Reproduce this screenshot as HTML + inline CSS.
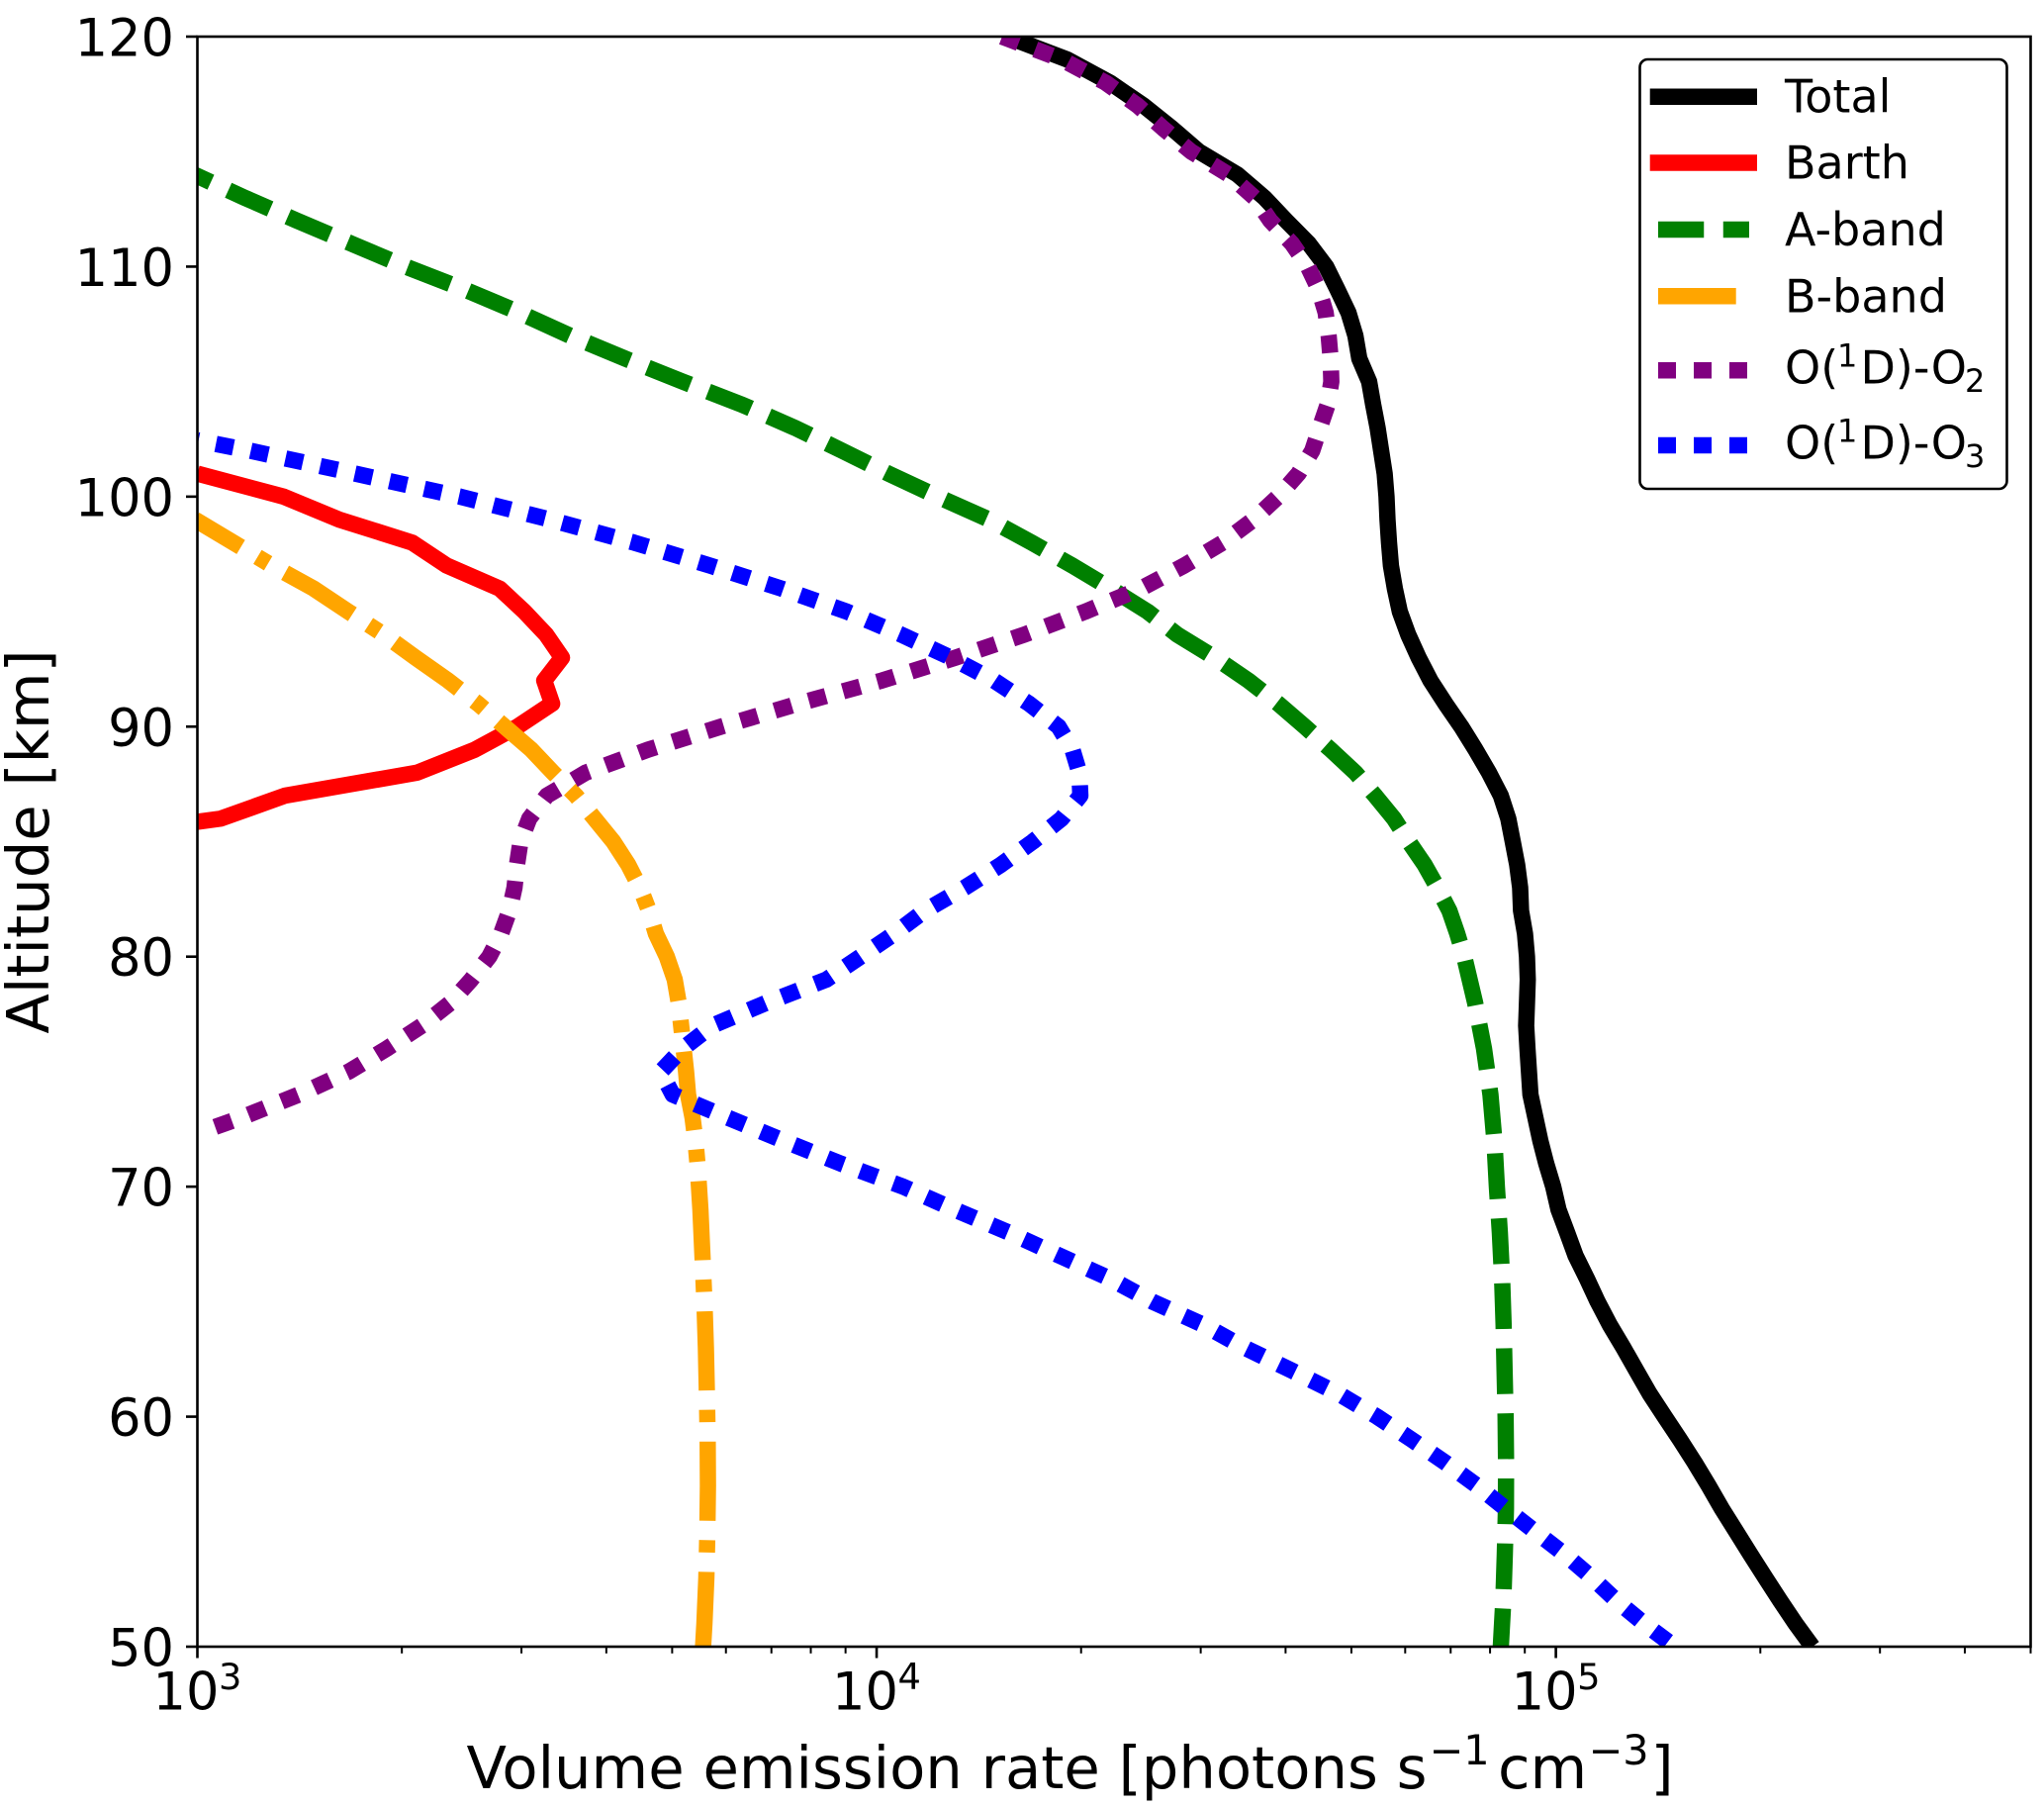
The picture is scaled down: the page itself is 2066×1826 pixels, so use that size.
<!DOCTYPE html>
<html lang="en">
<head>
<meta charset="utf-8">
<title>Volume emission rate profile</title>
<style>
html,body{margin:0;padding:0;background:#fff;}
svg{display:block;}
text{font-family:"DejaVu Sans","Liberation Sans",sans-serif;fill:#000;}
</style>
</head>
<body>
<svg id="chart" xmlns="http://www.w3.org/2000/svg" width="2066" height="1826" viewBox="0 0 2066 1826">
  <rect x="0" y="0" width="2066" height="1826" fill="#fff"/>
  <defs><clipPath id="plot-clip"><rect x="199.5" y="37" width="1853" height="1627"/></clipPath></defs>
  <g id="series-layer" clip-path="url(#plot-clip)"></g>
  <g id="axes-layer"></g>
  <text x="471.5" y="1807" font-size="59.2">Volume emission rate [photons s<tspan x="1444.6" dy="-24" font-size="41.4">−1</tspan><tspan x="1514" dy="24">cm</tspan><tspan x="1605.6" dy="-24" font-size="41.4">−3</tspan><tspan x="1668.5" dy="24">]</tspan></text>
  <text transform="translate(49,850.5) rotate(-90)" text-anchor="middle" font-size="59.2">Altitude [km]</text>
  <g>
    <rect x="1657.5" y="60" width="371" height="434" rx="8" ry="8" fill="#fff" stroke="#000" stroke-width="2.6"/>
    <line x1="1667.7" x2="1776" y1="97.8" y2="97.8" stroke="#000" stroke-width="16.5"/>
    <text x="1804" y="113.5" font-size="46">Total</text>
    <line x1="1667.7" x2="1776" y1="164.5" y2="164.5" stroke="#f00" stroke-width="16.5"/>
    <text x="1804" y="180.5" font-size="46">Barth</text>
    <line x1="1676" x2="1768" y1="232" y2="232" stroke="#008000" stroke-width="16.5" stroke-dasharray="46.25 19.5"/>
    <text x="1804" y="248" font-size="46">A-band</text>
    <line x1="1676" x2="1754.7" y1="299.3" y2="299.3" stroke="#ffa500" stroke-width="16.5"/>
    <text x="1804" y="315.7" font-size="46">B-band</text>
    <line x1="1676" x2="1766.4" y1="374.3" y2="374.3" stroke="#800080" stroke-width="16.5" stroke-dasharray="18 18"/>
    <text x="1804" y="387.5" font-size="46">O(<tspan x="1857" dy="-17" font-size="32">1</tspan><tspan x="1880.5" dy="17">D)-O</tspan><tspan x="1986" dy="8.5" font-size="32">2</tspan></text>
    <line x1="1676" x2="1766.4" y1="450" y2="450" stroke="#00f" stroke-width="16.5" stroke-dasharray="18 18"/>
    <text x="1804" y="463.5" font-size="46">O(<tspan x="1857" dy="-17" font-size="32">1</tspan><tspan x="1880.5" dy="17">D)-O</tspan><tspan x="1986" dy="8.5" font-size="32">3</tspan></text>
  </g>
</svg>
<script>
const yTickValues = [50, 60, 70, 80, 90, 100, 110, 120];
const xTickExponents = [3, 4, 5];
const xMinorMultipliers = [2, 3, 4, 5, 6, 7, 8, 9];

const totalAlt = [120,119,118,117,116,115,114,113,112,111,110,109,108,107,106,105,104,103,102,101,100,99,98,97,96,95,94,93,92,91,90,89,88,87,86,85,84,83,82,81,80,79,78,77,76,75,74,73,72,71,70,69,68,67,66,65,64,63,62,61,60,59,58,57,56,55,54,53,52,51,50];
const totalRate = [15560,19100,22060,24720,27250,29830,33990,37220,40070,43280,45900,47700,49500,50680,51360,53100,53830,54640,55300,55970,56320,56510,56800,57170,57940,58920,60620,62800,65380,68760,72560,76160,79700,82970,85100,86400,87700,88590,88860,90060,90670,90910,90670,90420,90820,91280,91740,93290,94870,96800,99100,100900,103900,106900,111100,115200,120000,125700,131400,137400,144600,152300,160100,167800,175500,184300,193500,203400,213900,225400,238600];

const barthAlt = [101,100,99,98,97,96,95,94,93,92,91,90,89,88,87,86,85];
const barthRate = [1000,1340,1618,2072,2330,2787,3030,3262,3442,3241,3329,2960,2562,2107,1346,1082,606];

const aBandAlt = [114,113,112,111,110,109,108,107,106,105,104,103,102,101,100,99,98,97,96,95,94,93,92,91,90,89,88,87,86,85,84,83,82,81,80,78,76,74,72,70,68,66,64,62,60,58,56,54,52,50];
const aBandRate = [990,1173,1401,1685,2026,2477,2980,3535,4265,5181,6335,7570,8890,10410,12300,14650,16920,19420,22130,25060,27710,31470,35280,39010,42700,46600,50680,54190,57760,60730,64070,66940,69690,71590,73290,76050,78380,80110,81190,81870,82700,83340,83760,84040,84330,84460,84430,84100,83680,82970];

const bBandAlt = [99,98,97,96,95,94,93,92,91,90,89,88,87,86,85,84,83,82,81,80,79,78,77,76,75,74,73,72,71,70,69,67,65,63,61,59,57,55,53,51,50];
const bBandRate = [992,1130,1288,1484,1668,1882,2095,2340,2588,2834,3102,3340,3608,3844,4096,4308,4484,4622,4732,4910,5044,5112,5155,5198,5242,5277,5358,5411,5448,5476,5503,5541,5578,5606,5625,5640,5645,5634,5615,5578,5553];

const o2Alt = [120,119,118,117,116,115,114,113,112,111,110,109,108,107,106,105,104,103,102,101,100,99,98,97,96,95,94,93,92,91,90,89,88,87,86,85,84,83,82,81,80,79,78,77,76,75,74,73,72.5];
const o2Rate = [15300,18740,21730,24230,26440,29040,32990,36000,37980,40880,43140,44770,45820,46290,46600,46710,46130,44920,43790,41780,39010,35870,32330,28360,24470,20280,16500,13070,10170,7670,5900,4610,3730,3270,3080,2990,2955,2930,2880,2800,2690,2530,2360,2140,1900,1670,1410,1160,1040];

const o3Alt = [102.45,102,101,100,99,98,97,96,95,94,93,92,91,90,89,88,87,86,85,84,83,82,81,80,79,78,77,76,75,74,73,72,71,70,69,68,67,66,65,64,63,62,61,60,59,58,57,56,55,54,53,52,51,50];
const o3Rate = [1000,1194,1707,2436,3307,4395,5690,7246,9040,10870,12860,14900,16760,18530,19420,19880,19950,18720,16980,15250,13480,11780,10620,9470,8430,6890,5730,5180,4810,5010,6040,7290,8860,10940,13030,15670,18590,22060,25480,30230,34810,40880,47860,54560,61340,68770,76560,84380,93290,103200,113000,122800,134900,149700];

const SVG_NS = 'http://www.w3.org/2000/svg';
const plotLeft = 199.5, plotRight = 2052.5, plotTop = 37, plotBottom = 1664;
const xMin = 1e3, xMax = 5e5, yMin = 50, yMax = 120;

function xScale(v) {
  return plotLeft + (Math.log10(v) - Math.log10(xMin)) / (Math.log10(xMax) - Math.log10(xMin)) * (plotRight - plotLeft);
}
function yScale(a) {
  return plotBottom - (a - yMin) / (yMax - yMin) * (plotBottom - plotTop);
}
function make(tag, attrs, parent) {
  const el = document.createElementNS(SVG_NS, tag);
  for (const k in attrs) el.setAttribute(k, attrs[k]);
  parent.appendChild(el);
  return el;
}

const seriesLayer = document.getElementById('series-layer');
const axesLayer = document.getElementById('axes-layer');

function drawSeries(rates, alts, color, dash, offset) {
  const pts = rates.map((r, i) => xScale(r).toFixed(2) + ',' + yScale(alts[i]).toFixed(2)).join(' ');
  const attrs = {points: pts, fill: 'none', stroke: color, 'stroke-width': 16.5, 'stroke-linejoin': 'round', 'stroke-linecap': 'butt'};
  if (dash) { attrs['stroke-dasharray'] = dash; attrs['stroke-dashoffset'] = offset; }
  return make('polyline', attrs, seriesLayer);
}

const lineTotal = drawSeries(totalRate, totalAlt, '#000000', null, 0);


const lineBarth = drawSeries(barthRate, barthAlt, '#ff0000', null, 0);


const lineABand = drawSeries(aBandRate, aBandAlt, '#008000', '46.25 19.5', 28);


const lineBBand = drawSeries(bBandRate, bBandAlt, '#ffa500', '80 19.6 12.5 19.6', 26);


const lineO2 = drawSeries(o2Rate, o2Alt, '#800080', '18 17.9', 0);


const lineO3 = drawSeries(o3Rate, o3Alt, '#0000ff', '18 17.9', 16.8);



const frame = make('rect', {x: plotLeft, y: plotTop, width: plotRight - plotLeft, height: plotBottom - plotTop, fill: 'none', stroke: '#000', 'stroke-width': 2.6}, axesLayer);



yTickValues.forEach(function (v) {
  const y = yScale(v);
  const tick = make('line', {x1: plotLeft - 11.5, x2: plotLeft, y1: y, y2: y, stroke: '#000', 'stroke-width': 2.6}, axesLayer);
  
  
  const label = make('text', {x: 176, y: y + 19.5, 'text-anchor': 'end', 'font-size': 52.6}, axesLayer);
  label.textContent = String(v);
  
  
});

xTickExponents.forEach(function (e) {
  const x = xScale(Math.pow(10, e));
  const tick = make('line', {x1: x, x2: x, y1: plotBottom, y2: plotBottom + 11.5, stroke: '#000', 'stroke-width': 2.6}, axesLayer);
  
  
  const label = make('text', {x: x - 45, y: 1727.7, 'font-size': 52.6}, axesLayer);
  
  
  label.appendChild(document.createTextNode('10'));
  const sup = make('tspan', {x: x + 21.5, dy: -20.7, 'font-size': 36.8}, label);
  sup.textContent = String(e);
  xMinorMultipliers.forEach(function (m) {
    const value = m * Math.pow(10, e);
    if (value > xMax) return;
    const mx = xScale(value);
    const minor = make('line', {x1: mx, x2: mx, y1: plotBottom, y2: plotBottom + 6.8, stroke: '#000', 'stroke-width': 2}, axesLayer);
    
    
  });
});
</script>
</body>
</html>
